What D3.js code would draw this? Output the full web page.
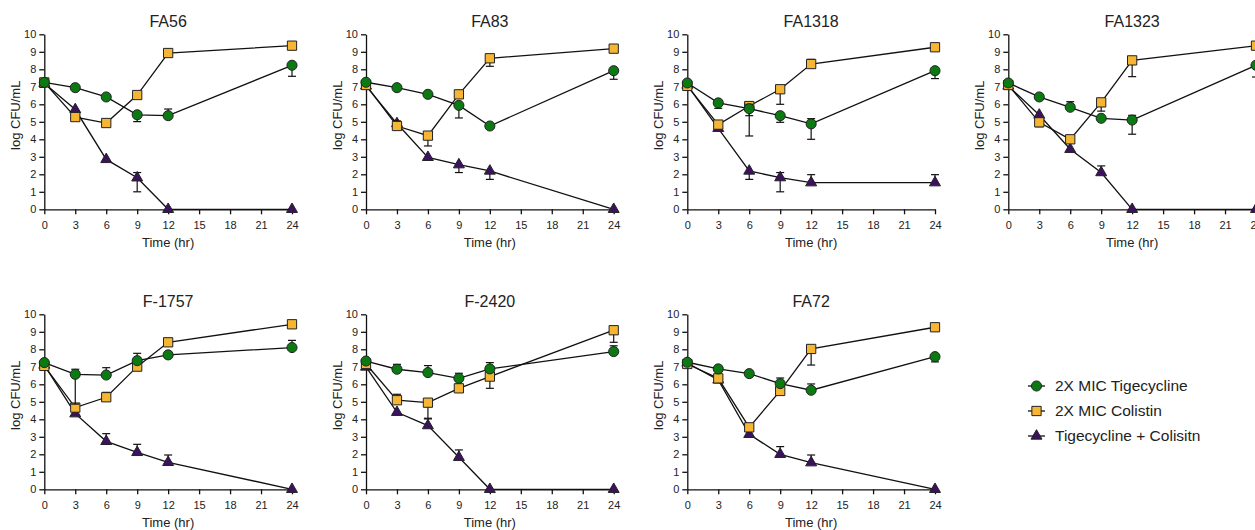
<!DOCTYPE html>
<html>
<head>
<meta charset="utf-8">
<script src="https://cdn.jsdelivr.net/npm/d3@7"></script>
<style>
  body { margin: 0; background: #fff; }
  svg { display: block; font-family: "Liberation Sans", Arial, sans-serif; }
  .axis path, .axis line { stroke: #111; stroke-width: 1.3px; }
  .axis text { font-size: 11px; fill: #222; font-family: "Liberation Sans", Arial, sans-serif; }
</style>
</head>
<body>
<svg id="chart" width="1255" height="530"></svg>
<script>
var strains = ['FA56', 'FA83', 'FA1318', 'FA1323', 'F-1757', 'F-2420', 'FA72'];
var times = [0, 3, 6, 9, 12, 24];
var xTicks = [0, 3, 6, 9, 12, 15, 18, 21, 24];
var yTicks = [0, 1, 2, 3, 4, 5, 6, 7, 8, 9, 10];
var seriesNames = ['2X MIC Tigecycline', '2X MIC Colistin', 'Tigecycline + Colisitn'];

// 2X MIC Tigecycline
var tigeMean = [
  [7.25, 6.95, 6.42, 5.40, 5.35, 8.23],
  [7.26, 6.95, 6.57, 5.94, 4.76, 7.92],
  [7.22, 6.08, 5.75, 5.35, 4.88, 7.92],
  [7.22, 6.42, 5.83, 5.20, 5.10, 8.23],
  [7.24, 6.57, 6.53, 7.35, 7.68, 8.10],
  [7.33, 6.86, 6.67, 6.34, 6.88, 7.87],
  [7.26, 6.88, 6.61, 6.04, 5.66, 7.58]
];
var tigeUp = [
  [0, 0, 0, 0, 0.38, 0],
  [0, 0, 0, 0, 0, 0],
  [0, 0, 0.25, 0, 0.30, 0],
  [0, 0, 0.32, 0, 0.27, 0],
  [0, 0.29, 0.42, 0.42, 0, 0.41],
  [0, 0.28, 0.40, 0.29, 0.36, 0.33],
  [0, 0, 0, 0.32, 0.36, 0]
];
var tigeDown = [
  [0, 0, 0, 0.39, 0, 0.63],
  [0, 0, 0, 0.72, 0, 0.49],
  [0, 0.31, 1.56, 0.38, 0.88, 0.45],
  [0, 0, 0, 0, 0.81, 0.67],
  [0, 1.70, 0, 0, 0, 0],
  [0, 0, 0, 0, 0, 0],
  [0, 0, 0, 0, 0, 0.30]
];

// 2X MIC Colistin
var coliMean = [
  [7.25, 5.27, 4.93, 6.53, 8.93, 9.35],
  [7.10, 4.76, 4.21, 6.57, 8.63, 9.18],
  [7.05, 4.84, 5.90, 6.86, 8.30, 9.26],
  [7.10, 4.97, 4.00, 6.11, 8.51, 9.35],
  [7.05, 4.67, 5.26, 7.01, 8.40, 9.43],
  [7.16, 5.09, 4.95, 5.77, 6.44, 9.09],
  [7.16, 6.34, 3.54, 5.62, 8.02, 9.26]
];
var coliUp = [
  [0, 0, 0, 0, 0, 0],
  [0, 0.29, 0, 0, 0, 0],
  [0, 0, 0, 0, 0.27, 0],
  [0, 0, 0, 0, 0, 0],
  [0, 0, 0.28, 0, 0, 0],
  [0, 0.34, 0, 0, 0, 0],
  [0, 0, 0, 0, 0, 0]
];
var coliDown = [
  [0, 0, 0, 0, 0, 0],
  [0, 0, 0.59, 0, 0.46, 0],
  [0, 0, 0.55, 0.86, 0, 0],
  [0, 0.25, 0, 0.50, 0.93, 0],
  [0, 0, 0, 0, 0, 0],
  [0, 0, 0.89, 0, 0.67, 0.69],
  [0, 0, 0, 0, 0.92, 0]
];

// Tigecycline + Colistin
var comboMean = [
  [7.20, 5.70, 2.85, 1.80, 0, 0],
  [7.05, 4.90, 2.97, 2.55, 2.19, 0],
  [7.10, 4.63, 2.19, 1.81, 1.52, 1.52],
  [7.05, 5.39, 3.43, 2.10, 0, 0],
  [7.10, 4.32, 2.74, 2.11, 1.54, 0],
  [6.99, 4.40, 3.64, 1.83, 0, 0],
  [7.22, 6.25, 3.14, 2.00, 1.52, 0]
];
var comboUp = [
  [0, 0, 0, 0.30, 0, 0],
  [0, 0, 0, 0, 0, 0],
  [0, 0, 0, 0.29, 0.46, 0.46],
  [0, 0, 0, 0.38, 0, 0],
  [0, 0, 0.44, 0.46, 0.42, 0],
  [0, 0, 0.38, 0.42, 0, 0],
  [0, 0, 0, 0.44, 0.44, 0]
];
var comboDown = [
  [0, 0, 0, 0.80, 0, 0],
  [0, 0, 0, 0.45, 0.48, 0],
  [0, 0, 0.48, 0.81, 0, 0],
  [0, 0, 0, 0, 0, 0],
  [0, 0, 0, 0, 0, 0],
  [0, 0, 0, 0, 0, 0],
  [0, 0, 0, 0, 0, 0]
];

// layout
var colX = [44.3, 366, 687.3, 1008.3];
var rowY = [34.3, 314.3];
var plotW = 247.7, plotH = 175;

var series = [
  { name: seriesNames[2], mean: comboMean, up: comboUp, down: comboDown, color: '#3b1160', shape: d3.symbolTriangle, size: 52 },
  { name: seriesNames[1], mean: coliMean, up: coliUp, down: coliDown, color: '#f6b633', shape: d3.symbolSquare, size: 86 },
  { name: seriesNames[0], mean: tigeMean, up: tigeUp, down: tigeDown, color: '#0b7a12', shape: d3.symbolCircle, size: 80 }
];

var svg = d3.select('#chart');

strains.forEach(function(strain, i) {
  var row = i < 4 ? 0 : 1;
  var col = i % 4;
  var g = svg.append('g').attr('transform', 'translate(' + colX[col] + ',' + rowY[row] + ')');

  var x = d3.scaleLinear().domain([0, 24]).range([0, plotW]);
  var y = d3.scaleLinear().domain([0, 10]).range([plotH, 0]);

  g.append('g').attr('class', 'axis')
    .attr('transform', 'translate(0,' + plotH + ')')
    .call(d3.axisBottom(x).tickValues(xTicks).tickSize(5).tickPadding(7).tickSizeOuter(0));
  g.append('g').attr('class', 'axis')
    .call(d3.axisLeft(y).tickValues(yTicks).tickSize(5).tickPadding(3).tickSizeOuter(0));

  g.append('text')
    .attr('x', plotW / 2).attr('y', -7)
    .attr('text-anchor', 'middle')
    .style('font-size', '16px').style('fill', '#222')
    .text(strain);
  g.append('text')
    .attr('x', plotW / 2).attr('y', plotH + 38)
    .attr('text-anchor', 'middle')
    .style('font-size', '13px').style('fill', '#222')
    .text('Time (hr)');
  g.append('text')
    .attr('transform', 'translate(-24,' + (plotH / 2 - 6.5) + ') rotate(-90)')
    .attr('text-anchor', 'middle')
    .style('font-size', '13px').style('fill', '#222')
    .text('log CFU/mL');

  var line = d3.line()
    .x(function(d) { return x(d.t); })
    .y(function(d) { return y(d.v); });

  series.forEach(function(s) {
    var pts = times.map(function(t, j) {
      return { t: t, v: s.mean[i][j], up: s.up[i][j], down: s.down[i][j] };
    });
    var sg = g.append('g');

    // error bars
    pts.forEach(function(p) {
      [[p.up, 1], [p.down, -1]].forEach(function(e) {
        if (!e[0]) return;
        var yEnd = y(p.v + e[1] * e[0]);
        sg.append('line')
          .attr('x1', x(p.t)).attr('x2', x(p.t))
          .attr('y1', y(p.v)).attr('y2', yEnd)
          .attr('stroke', '#111').attr('stroke-width', 1.2);
        sg.append('line')
          .attr('x1', x(p.t) - 4).attr('x2', x(p.t) + 4)
          .attr('y1', yEnd).attr('y2', yEnd)
          .attr('stroke', '#111').attr('stroke-width', 1.2);
      });
    });

    sg.append('path')
      .datum(pts)
      .attr('d', line)
      .attr('fill', 'none')
      .attr('stroke', '#111')
      .attr('stroke-width', 1.3);

    sg.selectAll('path.mark')
      .data(pts)
      .enter().append('path')
      .attr('class', 'mark')
      .attr('transform', function(d) { return 'translate(' + x(d.t) + ',' + y(d.v) + ')'; })
      .attr('d', d3.symbol().type(s.shape).size(s.size))
      .attr('fill', s.color)
      .attr('stroke', '#222')
      .attr('stroke-width', 1);
  });
});

// legend
var legend = svg.append('g').attr('transform', 'translate(1028,386)');
series.slice().reverse().forEach(function(s, k) {
  var lg = legend.append('g').attr('transform', 'translate(0,' + (k * 25) + ')');
  lg.append('line')
    .attr('x1', 0).attr('x2', 17).attr('y1', 0).attr('y2', 0)
    .attr('stroke', '#111').attr('stroke-width', 1.3);
  lg.append('path')
    .attr('transform', 'translate(8.5,0)')
    .attr('d', d3.symbol().type(s.shape).size(s.size))
    .attr('fill', s.color)
    .attr('stroke', '#222')
    .attr('stroke-width', 1);
  lg.append('text')
    .attr('x', 27).attr('y', 0).attr('dy', '0.35em')
    .style('font-size', '15.5px').style('fill', '#222')
    .text(s.name);
});
</script>
</body>
</html>
